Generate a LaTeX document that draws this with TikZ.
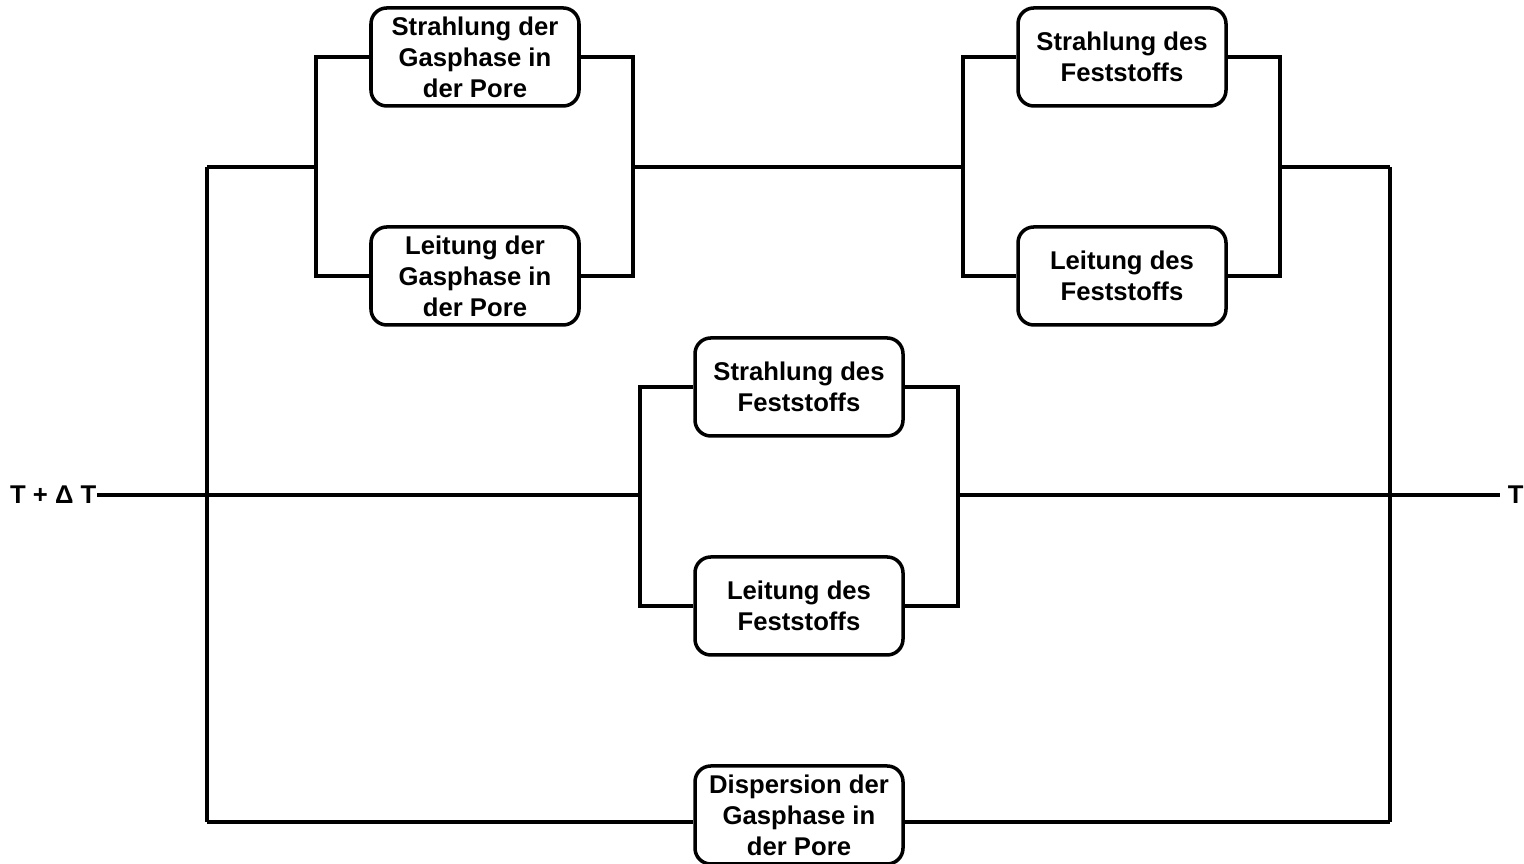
\documentclass[tikz,border=0pt]{standalone}
\usepackage{fontspec}
\setmainfont{Liberation Sans}
\usetikzlibrary{positioning}

\tikzset{
  box/.style={draw, line width=1pt, rounded corners=4.5pt, minimum width=2.08cm,
    minimum height=0.98cm, align=center, inner sep=0pt,
    font=\bfseries\fontsize{7.3}{8.8}\selectfont},
  term/.style={inner xsep=2pt, inner ysep=0pt, font=\bfseries\fontsize{7.3}{8.8}\selectfont},
  wire/.style={line width=1pt}
}

\begin{document}
\begin{tikzpicture}
\useasboundingbox (0,0) rectangle (15.24,8.64);

% Terminals
\node[term, anchor=east, inner xsep=0pt] (tin) at (0.97,3.69) {T + Δ T};
\node[term, anchor=west] (tout) at (15.00,3.69) {T};

% Upper branch: gas phase
\node[box] (sgp) at (4.75,8.07) {Strahlung der\\Gasphase in\\der Pore};
\node[box] (lgp) at (4.75,5.88) {Leitung der\\Gasphase in\\der Pore};

% Upper branch: solid
\node[box] (sft) at (11.22,8.07) {Strahlung des\\Feststoffs};
\node[box] (lft) at (11.22,5.88) {Leitung des\\Feststoffs};

% Middle branch: solid
\node[box] (sfm) at (7.99,4.77) {Strahlung des\\Feststoffs};
\node[box] (lfm) at (7.99,2.58) {Leitung des\\Feststoffs};

% Lower branch
\node[box] (dgp) at (7.99,0.49) {Dispersion der\\Gasphase in\\der Pore};

% Junctions
\coordinate (ja) at (2.07,6.97);
\coordinate (jb) at (13.90,6.97);
\coordinate (jc) at (2.07,0.42);
\coordinate (jd) at (13.90,0.42);
\coordinate (p1) at (3.16,6.97);
\coordinate (p2) at (6.33,6.97);
\coordinate (p3) at (9.63,6.97);
\coordinate (p4) at (12.80,6.97);
\coordinate (m1) at (6.40,3.69);
\coordinate (m2) at (9.58,3.69);

% Outer rails
\draw[wire] (ja) -- (jc);
\draw[wire] (jb) -- (jd);

% Upper branch wiring
\draw[wire] (ja) -- (p1);
\draw[wire] (sgp.west) -| (p1) |- (lgp.west);
\draw[wire] (sgp.east) -| (p2) |- (lgp.east);
\draw[wire] (p2) -- (p3);
\draw[wire] (sft.west) -| (p3) |- (lft.west);
\draw[wire] (sft.east) -| (p4) |- (lft.east);
\draw[wire] (p4) -- (jb);

% Middle branch wiring
\draw[wire] (tin.east) -- (m1);
\draw[wire] (sfm.west) -| (m1) |- (lfm.west);
\draw[wire] (sfm.east) -| (m2) |- (lfm.east);
\draw[wire] (m2) -- (tout.west);

% Lower branch wiring
\draw[wire] (jc) -- (jc -| dgp.west);
\draw[wire] (dgp.east |- jd) -- (jd);
\end{tikzpicture}
\end{document}
